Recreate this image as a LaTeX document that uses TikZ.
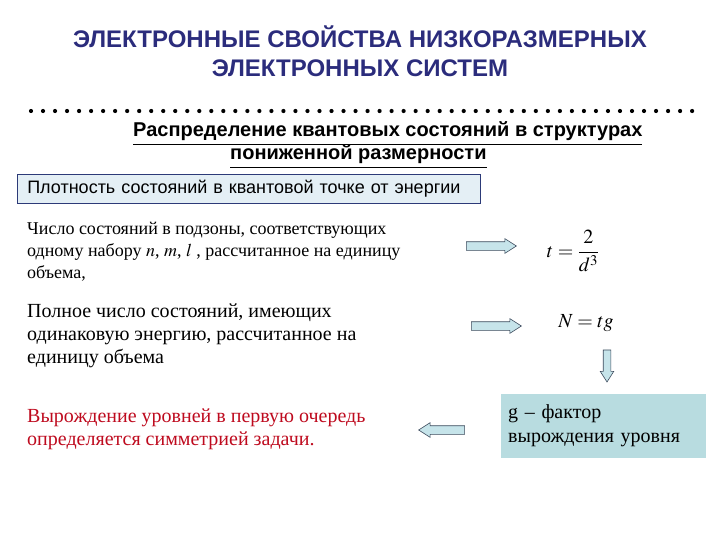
\documentclass[tikz,border=0pt]{standalone}
\usepackage{mathptmx}
\usepackage{fontspec}
\setmainfont{Liberation Serif}
\newfontfamily\hdrfont{Liberation Sans}
\usetikzlibrary{positioning,shapes.arrows}
\definecolor{ctitle}{HTML}{2B2C7C}
\definecolor{cbox}{HTML}{E4EFF5}
\definecolor{cedge}{HTML}{2C3A78}
\definecolor{cg}{HTML}{B8DCE0}
\definecolor{cred}{HTML}{BE0A1E}
\definecolor{carr}{HTML}{C6E4EA}
\definecolor{carrline}{HTML}{3C4A5C}
\tikzset{
  title/.style={font=\hdrfont\bfseries\fontsize{24}{29}\selectfont, text=ctitle, inner sep=0pt, anchor=base},
  subtitle/.style={font=\hdrfont\bfseries\fontsize{20}{24}\selectfont, inner sep=0pt, anchor=base west},
  dens/.style={rectangle, draw=cedge, fill=cbox, semithick, anchor=north west, minimum width=463pt,
               minimum height=29pt, text width=443pt, inner xsep=10pt, inner ysep=0pt, align=left,
               font=\hdrfont\fontsize{18}{21}\selectfont},
  txt/.style={anchor=north west, inner sep=0pt, align=left},
  gbox/.style={rectangle, fill=cg, anchor=north west, minimum width=205pt, minimum height=64pt,
               text width=191pt, inner xsep=7pt, align=left, font=\fontsize{20}{24}\selectfont},
  blockarr/.style={single arrow, draw=carrline, fill=carr, line width=0.6pt, inner sep=0pt,
                   text height=4pt, text depth=4pt, text width=0pt, single arrow tip angle=65,
                   minimum height=50pt, single arrow head extend=3pt},
  formula/.style={inner sep=0pt, font=\fontsize{20}{24}\selectfont}
}
\begin{document}
\begin{tikzpicture}[x=1pt,y=-1pt]
\useasboundingbox (0,0) rectangle (720,540);
\node[title] (t1) at (360,48) {ЭЛЕКТРОННЫЕ СВОЙСТВА НИЗКОРАЗМЕРНЫХ};
\node[title] (t2) at (360,77) {ЭЛЕКТРОННЫХ СИСТЕМ};
% dotted rule
\foreach \i in {0,...,55}
  \fill (31+12.02*\i,111) circle (2.1pt);
\node[subtitle] (s1) at (133,137) {\underline{Распределение квантовых состояний в структурах}};
\node[subtitle] (s2) at (230,160) {\underline{пониженной размерности}};
\node[dens] (dos) at (17,174) {Плотность состояний в квантовой точке от энергии};
% left column
\node[txt, font=\fontsize{18}{22}\selectfont] (sub) at (27,221.5)
  {Число состояний в подзоны, соответствующих\\одному набору $n$, $m$, $l$ , рассчитанное на единицу\\объема,};
\node[txt, font=\fontsize{20}{23}\selectfont] (tot) at (27,304)
  {Полное число состояний, имеющих\\одинаковую энергию, рассчитанное на\\единицу объема};
\node[txt, text=cred, font=\fontsize{20}{22.5}\selectfont] (deg) at (27,409)
  {Вырождение уровней в первую очередь\\определяется симметрией задачи.};
% right column
\node[formula] (ft) at (573,251) {$t=\displaystyle\frac{2}{d^{3}}$};
\node[formula] (fn) at (586,323) {$N=tg$};
\node[gbox] (g) at (501,394) {g – фактор\\вырождения уровня};
\node[blockarr] (a1) at (488,246) {};
\node[blockarr] (a2) at (493,326) {};
\node[blockarr, shape border rotate=270, minimum height=32pt, text width=7pt,
      text height=0pt, text depth=0pt] (a3) at (607,363) {};
\node[blockarr, minimum height=46pt, shape border rotate=180] (a4) at (445,430) {};
\end{tikzpicture}
\end{document}
